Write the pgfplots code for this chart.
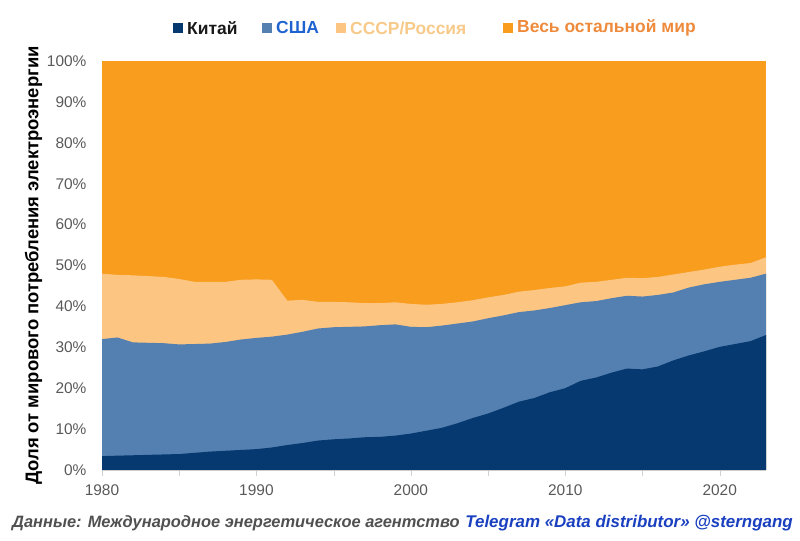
\documentclass[border=0pt]{standalone}
\usepackage{pgfplots}
\pgfplotsset{compat=1.18}
\usepackage{pgfplotstable}
\usepackage{fontspec}
\setmainfont{Liberation Sans}
\definecolor{cChina}{HTML}{05396F}
\definecolor{cUSA}{HTML}{547FB1}
\definecolor{cUSSR}{HTML}{FCC682}
\definecolor{cRest}{HTML}{F89D1E}
\definecolor{tUSA}{HTML}{1E63D0}
\definecolor{tUSSR}{HTML}{F8CA8A}
\definecolor{tRest}{HTML}{EE8A3B}
\definecolor{tick}{HTML}{595959}
\definecolor{foot}{HTML}{505050}
\definecolor{footblue}{HTML}{1A40C0}
% cumulative tops: China, China+USA, China+USA+USSR/Russia (percent)
\pgfplotstableread{
year china usatop russtop
1980 3.4 32.0 48.0
1981 3.5 32.4 47.7
1982 3.6 31.2 47.6
1983 3.7 31.1 47.4
1984 3.8 31.0 47.2
1985 3.9 30.7 46.7
1986 4.2 30.8 46.0
1987 4.5 30.9 46.0
1988 4.7 31.3 46.0
1989 4.9 31.9 46.5
1990 5.1 32.3 46.6
1991 5.5 32.6 46.5
1992 6.1 33.1 41.4
1993 6.6 33.8 41.6
1994 7.2 34.6 41.1
1995 7.5 34.9 41.1
1996 7.7 35.0 41.0
1997 8.0 35.1 40.8
1998 8.1 35.4 40.8
1999 8.4 35.6 41.0
2000 8.9 35.0 40.6
2001 9.6 34.9 40.4
2002 10.3 35.3 40.6
2003 11.4 35.8 41.0
2004 12.7 36.3 41.5
2005 13.8 37.1 42.2
2006 15.2 37.8 42.8
2007 16.7 38.6 43.6
2008 17.6 39.0 44.0
2009 19.0 39.6 44.5
2010 20.0 40.3 44.9
2011 21.8 41.0 45.8
2012 22.6 41.3 46.0
2013 23.8 42.0 46.5
2014 24.8 42.6 47.0
2015 24.6 42.4 46.9
2016 25.3 42.8 47.2
2017 26.8 43.4 47.8
2018 28.0 44.6 48.4
2019 29.0 45.4 49.0
2020 30.1 46.0 49.7
2021 30.8 46.5 50.2
2022 31.5 47.0 50.6
2023 33.0 48.0 52.0
}\datatable
\begin{document}
\begin{tikzpicture}[x=1bp,y=1bp]
\useasboundingbox (0,0) rectangle (800,541);
\begin{axis}[
  at={(102bp,71bp)}, anchor=south west,
  width=664bp, height=409bp, scale only axis,
  xmin=1980, xmax=2023, ymin=0, ymax=100,
  axis x line*=bottom, axis y line*=left,
  x axis line style={draw=black!20},
  y axis line style={draw=none},
  xtick={1980,1990,2000,2010,2020},
  xticklabels={1980,1990,2000,2010,2020},
  minor xtick={1985,1995,2005,2015},
  tick align=outside,
  major tick length=6bp, minor tick length=6bp,
  xtick style={draw=black!18},
  minor tick style={draw=black!18},
  ytick={0,10,20,30,40,50,60,70,80,90,100},
  yticklabels={0\%,10\%,20\%,30\%,40\%,50\%,60\%,70\%,80\%,90\%,100\%},
  ytick style={draw=none},
  tick label style={font=\fontsize{15.5}{18}\selectfont, text=tick},
  yticklabel style={xshift=-6bp},
  xticklabel style={yshift=-5bp},
  ylabel={Доля от мирового потребления электроэнергии},
  ylabel style={font=\fontsize{18.5}{21}\selectfont\bfseries, text=black, yshift=-2bp},
  clip=true,
]
\addplot[draw=none, fill=cRest] coordinates {(1980,100) (2023,100)} \closedcycle;
\addplot[draw=none, fill=cUSSR] table[x=year, y=russtop] {\datatable} \closedcycle;
\addplot[draw=none, fill=cUSA] table[x=year, y=usatop] {\datatable} \closedcycle;
\addplot[draw=none, fill=cChina] table[x=year, y=china] {\datatable} \closedcycle;
\end{axis}
% legend
\begin{scope}[every node/.style={font=\fontsize{17.5}{20}\selectfont\bfseries, anchor=west, inner sep=0pt}]
\fill[cChina] (173,508) rectangle (183,518);
\node[text=black!90] at (187,513) {Китай};
\fill[cUSA] (262,508) rectangle (272,518);
\node[text=tUSA] at (276,513) {США};
\fill[cUSSR] (336,508) rectangle (346,518);
\node[text=tUSSR] at (350,513) {СССР/Россия};
\fill[cRest] (503,508) rectangle (513,518);
\node[text=tRest] at (517,513) {Весь остальной мир};
\end{scope}
% footer
\node[anchor=west, inner sep=0pt, font=\fontsize{16.5}{19}\selectfont\bfseries\itshape, text=foot] at (12,18) {Данные: Международное энергетическое агентство};
\node[anchor=east, inner sep=0pt, font=\fontsize{17}{20}\selectfont\bfseries\itshape, text=footblue] at (793,18) {Telegram «Data distributor» @sterngang};
\end{tikzpicture}
\end{document}
